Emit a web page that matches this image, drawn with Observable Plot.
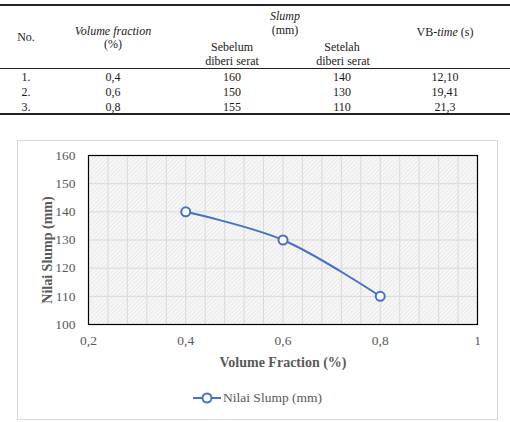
<!DOCTYPE html>
<html>
<head>
<meta charset="utf-8">
<script src="https://cdn.jsdelivr.net/npm/d3@7"></script>
<script src="https://cdn.jsdelivr.net/npm/@observablehq/plot@0.6"></script>
<style>
  html, body { margin: 0; padding: 0; background: #fff; }
  #page { position: relative; width: 510px; height: 422px; overflow: hidden; font-family: "Liberation Serif", "Times New Roman", serif; }
  .t { position: absolute; transform: translate(-50%, -50%); white-space: nowrap; font-family: "Liberation Serif", "Times New Roman", serif; font-size: 12px; line-height: 1; color: #1a1a1a; }
  .rule { position: absolute; left: 0; width: 510px; background: #222; }
  #box { position: absolute; left: 17px; top: 140px; width: 479px; height: 278px; border: 1px solid #d9d9d9; }
  #chart { position: absolute; left: 17px; top: 140px; }
  #legend { position: absolute; left: 193px; top: 389px; height: 18px; display: flex; align-items: center; font-family: "Liberation Serif", serif; font-size: 13.5px; color: #595959; }
</style>
</head>
<body>
<div id="page">
  <div id="box"></div>
  <div id="chart"></div>
  <div id="legend"></div>
</div>
<script>
// ---- data ----
const rowNo = ["1.", "2.", "3."];
const volumeFraction = [0.4, 0.6, 0.8];
const volumeFractionLabel = ["0,4", "0,6", "0,8"];
const slumpBefore = [160, 150, 155];
const slumpAfter = [140, 130, 110];
const vbTime = ["12,10", "19,41", "21,3"];
const xTicks = [0.2, 0.4, 0.6, 0.8, 1];
const yTicks = [100, 110, 120, 130, 140, 150, 160];
const xMinor = [0.2, 0.24, 0.28, 0.32, 0.36, 0.4, 0.44, 0.48, 0.52, 0.56, 0.6, 0.64, 0.68, 0.72, 0.76, 0.8, 0.84, 0.88, 0.92, 0.96, 1];
const seriesName = "Nilai Slump (mm)";

// ---- table ----
const page = document.getElementById("page");
function txt(html, x, y) {
  const d = document.createElement("div");
  d.className = "t";
  d.innerHTML = html;
  d.style.left = x + "px";
  d.style.top = y + "px";
  page.appendChild(d);
}
function rule(y, h) {
  const d = document.createElement("div");
  d.className = "rule";
  d.style.top = y + "px";
  d.style.height = h + "px";
  page.appendChild(d);
}
rule(4, 2);
rule(68, 1);
rule(113, 2);
txt("No.", 26, 37);
txt("<i>Volume fraction</i>", 113, 31);
txt("(%)", 113, 44);
txt("<i>Slump</i>", 285, 16);
txt("(mm)", 285, 30);
txt("Sebelum", 232, 47);
txt("diberi serat", 232, 61);
txt("Setelah", 342, 47);
txt("diberi serat", 343, 61);
txt("VB-<i>time</i> (s)", 445, 32);
const rowY = [77, 92, 107];
rowNo.forEach((n, i) => {
  txt(n, 26, rowY[i]);
  txt(volumeFractionLabel[i], 113, rowY[i]);
  txt(String(slumpBefore[i]), 232, rowY[i]);
  txt(String(slumpAfter[i]), 342, rowY[i]);
  txt(vbTime[i], 445, rowY[i]);
});

// ---- chart ----
const data = volumeFraction.map((v, i) => ({x: v, y: slumpAfter[i]}));
const fmt = d => String(d).replace(".", ",");
const blue = "#4472c4";

const chart = Plot.plot({
  width: 480,
  height: 232,
  marginLeft: 71,
  marginRight: 20,
  marginTop: 15,
  marginBottom: 48,
  style: {fontFamily: "'Liberation Serif', serif", fontSize: "13.5px", color: "#595959", background: "transparent", overflow: "visible"},
  x: {domain: [0.2, 1]},
  y: {domain: [100, 160]},
  marks: [
    Plot.frame({fill: "url(#hatch)"}),
    Plot.gridX(xMinor, {stroke: "#d9d9d9", strokeOpacity: 1, strokeWidth: 1}),
    Plot.gridY(yTicks, {stroke: "#d9d9d9", strokeOpacity: 1, strokeWidth: 1}),
    Plot.axisX(xTicks, {tickSize: 0, tickPadding: 11, tickFormat: fmt, label: "Volume Fraction (%)", labelAnchor: "center", labelArrow: "none", labelOffset: 42, fill: "#595959"}),
    Plot.axisY(yTicks, {tickSize: 0, tickPadding: 13, label: "Nilai Slump (mm)", labelAnchor: "center", labelArrow: "none", labelOffset: 46, fill: "#595959"}),
    Plot.frame({stroke: "#000", strokeWidth: 1.2}),
    Plot.line(data, {x: "x", y: "y", curve: "catmull-rom", stroke: blue, strokeWidth: 2}),
    Plot.dot(data, {x: "x", y: "y", r: 4.5, fill: "white", stroke: blue, strokeWidth: 2})
  ]
});

// hatch pattern definition
const ns = "http://www.w3.org/2000/svg";
const defs = document.createElementNS(ns, "defs");
defs.innerHTML = `<pattern id="hatch" width="3" height="3" patternUnits="userSpaceOnUse" patternTransform="rotate(45)">
  <rect width="3" height="3" fill="#f7f7f7"></rect>
  <line x1="0" y1="0" x2="0" y2="3" stroke="#dcdcdc" stroke-width="1"></line>
</pattern>`;
chart.insertBefore(defs, chart.firstChild);

// bold axis titles
chart.querySelectorAll('g[aria-label="x-axis label"] text, g[aria-label="y-axis label"] text').forEach(t => {
  t.setAttribute("font-weight", "bold");
  t.setAttribute("font-size", "14px");
});
const yl = chart.querySelector('g[aria-label="y-axis label"]');
if (yl) {
  const tr = yl.getAttribute("transform") || "";
  yl.setAttribute("transform", tr + " translate(0,10)");
}
document.getElementById("chart").appendChild(chart);

// legend
const legend = document.getElementById("legend");
legend.innerHTML = `<svg width="28" height="18"><line x1="0" y1="9" x2="28" y2="9" stroke="${blue}" stroke-width="2"></line><circle cx="14" cy="9" r="4.5" fill="white" stroke="${blue}" stroke-width="2"></circle></svg><span style="margin-left:2px">${seriesName}</span>`;
</script>
</body>
</html>
